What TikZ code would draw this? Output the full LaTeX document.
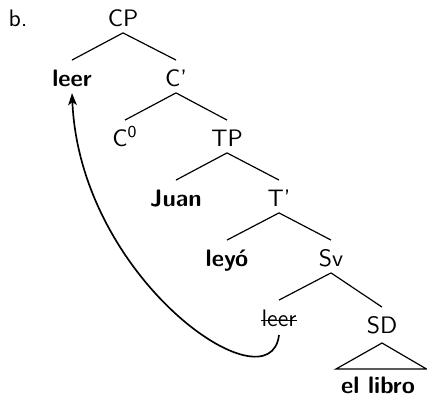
\documentclass[tikz,border=0pt]{standalone}
\usepackage{fontspec}
\usetikzlibrary{arrows.meta}
\begin{document}
\begin{tikzpicture}[x=0.42pt,y=-0.42pt,
  lab/.style={inner sep=0pt,anchor=base,font=\sffamily},
  blab/.style={lab,font=\sffamily\bfseries},
  branch/.style={line width=0.5pt},
  mv/.style={line width=0.7pt,-{Stealth[length=5pt,width=3.6pt,inset=1.2pt]}}]
\useasboundingbox (0,0) rectangle (427,396);
\node[lab] (b) at (18,26) {b.};
\node[lab] (CP) at (123,26) {CP};
\node[blab] (leer) at (72,86) {leer};
\node[lab] (Cbar) at (176,86) {C'};
\node[lab] (C0) at (125,146) {C\textsuperscript{0}};
\node[lab] (TP) at (227,146) {TP};
\node[blab] (Juan) at (176,206) {Juan};
\node[lab] (Tbar) at (279,206) {T'};
\node[blab] (leyo) at (227,266) {leyó};
\node[lab] (Sv) at (331,266) {Sv};
\node[lab] (leer2) at (279,326) {leer};
\node[lab] (SD) at (382,333) {SD};
\node[blab] (libro) at (378,393) {el libro};
% branches
\foreach \p/\c in {CP/leer,CP/Cbar,Cbar/C0,Cbar/TP,TP/Juan,TP/Tbar,Tbar/leyo,Tbar/Sv,Sv/leer2,Sv/SD}
  \draw[branch] ([yshift=-2.9pt]\p.base) -- ([yshift=10.9pt]\c.base);
% triangle
\coordinate (tl) at (336,369);
\coordinate (tr) at (426.5,369);
\draw[branch] ([yshift=-4.2pt]SD.base) -- (tl) -- (tr) -- cycle;
% strike-out
\draw[line width=0.5pt] ([yshift=2.3pt]leer2.base west) -- ([yshift=2.3pt]leer2.base east);
% movement arrow
\draw[mv] ([yshift=-3.8pt]leer2.base) .. controls (270,410) and (80,280) .. ([yshift=-3pt]leer.base);
\end{tikzpicture}
\end{document}
